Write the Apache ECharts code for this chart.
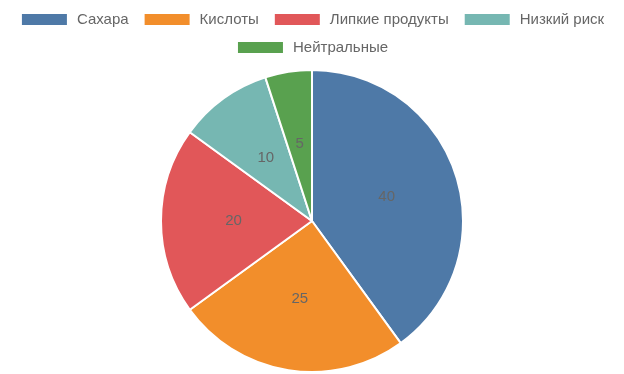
<!DOCTYPE html>
<html><head><meta charset="utf-8">
<script src="https://cdn.jsdelivr.net/npm/echarts@6/dist/echarts.min.js"></script>
<style>html,body{margin:0;padding:0;background:#fff}#c{width:624px;height:374px}</style>
</head><body><div id="c"></div>
<script>
const categories = ['Сахара', 'Кислоты', 'Липкие продукты', 'Низкий риск', 'Нейтральные'];
const values = [40, 25, 20, 10, 5];
const colors = ['#4e79a7', '#f28e2b', '#e15759', '#76b7b2', '#59a14f'];
const chart = echarts.init(document.getElementById('c'));
const legendBase = {
  left: 'center', orient: 'horizontal', padding: 0,
  icon: 'rect', itemWidth: 47, itemHeight: 13, itemGap: 14,
  textStyle: { fontSize: 15, color: '#666', fontFamily: 'Liberation Sans', padding: [0, 0, 0, 4] }
};
chart.setOption({
  animation: false,
  color: colors,
  legend: [
    Object.assign({}, legendBase, { top: 12, data: categories.slice(0, 4) }),
    Object.assign({}, legendBase, { top: 40, data: categories.slice(4) })
  ],
  series: [{
    type: 'pie',
    center: [312, 221],
    radius: 151,
    startAngle: 90,
    clockwise: true,
    itemStyle: { borderColor: '#fff', borderWidth: 2 },
    label: { position: 'inner', formatter: '{c}', fontSize: 15, color: '#666', fontFamily: 'Liberation Sans', padding: [4, 0, 0, 0] },
    labelLine: { show: false },
    data: categories.map((n, i) => ({ name: n, value: values[i] }))
  }]
});
</script></body></html>
